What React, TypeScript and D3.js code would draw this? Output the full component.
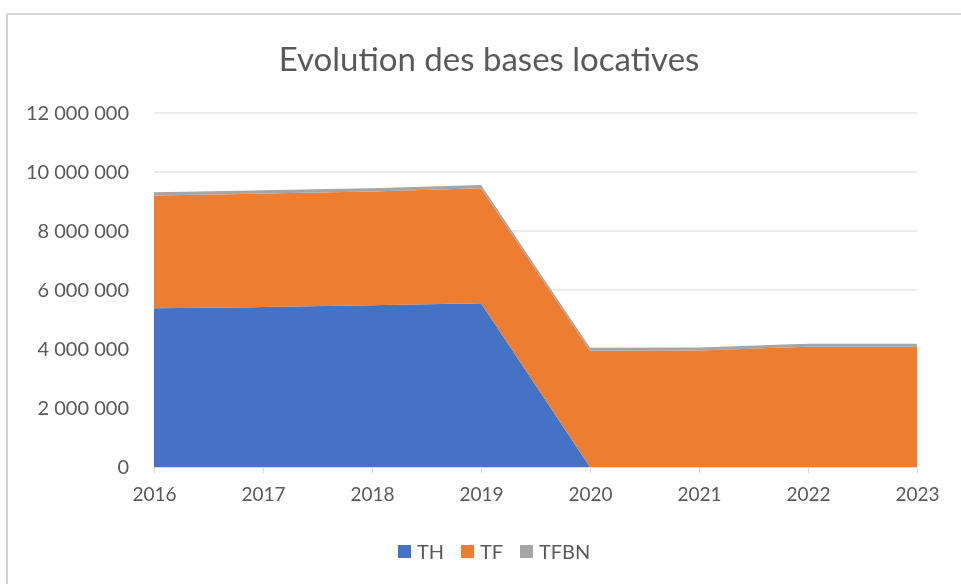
import * as React from "react";
import { useRef, useEffect } from "react";
import * as d3 from "d3";

const years = ["2016", "2017", "2018", "2019", "2020", "2021", "2022", "2023"];
const th = [5380000, 5420000, 5480000, 5550000, 0, 0, 0, 0];
const tf = [3820000, 3850000, 3860000, 3900000, 3940000, 3950000, 4080000, 4080000];
const tfbn = [110000, 110000, 110000, 110000, 100000, 100000, 100000, 100000];
const seriesNames = ["TH", "TF", "TFBN"];
const colors = ["#4472C4", "#ED7D31", "#A5A5A5"];
const yTicks = [0, 2000000, 4000000, 6000000, 8000000, 10000000, 12000000];

const fmt = (v: number) => d3.format(",")(v).replace(/,/g, " ");

const W = 961;
const H = 584;

const App = () => {
  const svgRef = useRef<SVGSVGElement>(null);

  useEffect(() => {
    // no scrollbars on the page
    document.documentElement.style.overflow = "hidden";
    document.body.style.overflow = "hidden";
    document.body.style.margin = "0";

    const margin = { top: 113, right: 44, bottom: 117, left: 154 };
    const width = W - margin.left - margin.right;
    const height = H - margin.top - margin.bottom;
    const font = "Lato, 'Open Sans', sans-serif";
    const textColor = "#595959";

    const svg = d3.select(svgRef.current).attr("width", W).attr("height", H);
    svg.selectAll("*").remove();

    // chart frame (only left and top edges are in view)
    svg.append("rect").attr("x", 6).attr("y", 13).attr("width", 2).attr("height", H - 13).attr("fill", "#d0d0d0");
    svg.append("rect").attr("x", 6).attr("y", 13).attr("width", W - 6).attr("height", 2).attr("fill", "#d9d9d9");

    svg
      .append("text")
      .attr("x", 489)
      .attr("y", 71)
      .attr("text-anchor", "middle")
      .attr("font-family", font)
      .attr("font-size", 33)
      .attr("fill", textColor)
      .text("Evolution des bases locatives");

    const g = svg
      .append("g")
      .attr("transform", `translate(${margin.left},${margin.top})`);

    const x = d3.scalePoint().domain(years).range([0, width]);
    const y = d3.scaleLinear().domain([0, 12000000]).range([height, 0]);

    // gridlines
    g.selectAll(".grid")
      .data(yTicks.slice(1))
      .enter()
      .append("line")
      .attr("x1", 0)
      .attr("x2", width)
      .attr("y1", (d) => y(d))
      .attr("y2", (d) => y(d))
      .attr("stroke", "#d9d9d9")
      .attr("stroke-width", 1);

    const table = years.map((yr, i) => ({ year: yr, TH: th[i], TF: tf[i], TFBN: tfbn[i] }));
    const stacked = d3.stack<any>().keys(seriesNames)(table);

    const area = d3
      .area<any>()
      .x((d) => x(d.data.year) as number)
      .y0((d) => y(d[0]))
      .y1((d) => y(d[1]));

    g.selectAll(".layer")
      .data(stacked)
      .enter()
      .append("path")
      .attr("d", area)
      .attr("fill", (_, i) => colors[i]);

    // x axis
    const xAxis = g
      .append("g")
      .attr("transform", `translate(0,${height})`)
      .call(d3.axisBottom(x).tickSize(6).tickPadding(15));
    xAxis.select(".domain").attr("stroke", "#d9d9d9");
    xAxis.selectAll("line").attr("stroke", "#d9d9d9");
    xAxis
      .selectAll("text")
      .attr("font-family", font)
      .attr("font-size", 19)
      .attr("fill", textColor);

    // y axis labels
    const yAxis = g
      .append("g")
      .call(d3.axisLeft(y).tickValues(yTicks).tickFormat((d) => fmt(d as number)).tickSize(0).tickPadding(25));
    yAxis.select(".domain").remove();
    yAxis
      .selectAll("text")
      .attr("font-family", font)
      .attr("font-size", 20)
      .attr("fill", textColor);

    // legend
    const legendX = [398, 461, 520];
    const legend = svg
      .selectAll(".legend")
      .data(seriesNames)
      .enter()
      .append("g")
      .attr("transform", (_, i) => `translate(${legendX[i]},545)`);
    legend
      .append("rect")
      .attr("width", 13)
      .attr("height", 13)
      .attr("fill", (_, i) => colors[i]);
    legend
      .append("text")
      .attr("x", 19)
      .attr("y", 14)
      .attr("font-family", font)
      .attr("font-size", 20)
      .attr("fill", textColor)
      .text((d) => d);
  }, []);

  return (
    <div style={{ position: "fixed", left: 0, top: 0, width: W, height: H, overflow: "hidden" }}>
      <svg ref={svgRef} style={{ display: "block" }}></svg>
    </div>
  );
};

export default App;
